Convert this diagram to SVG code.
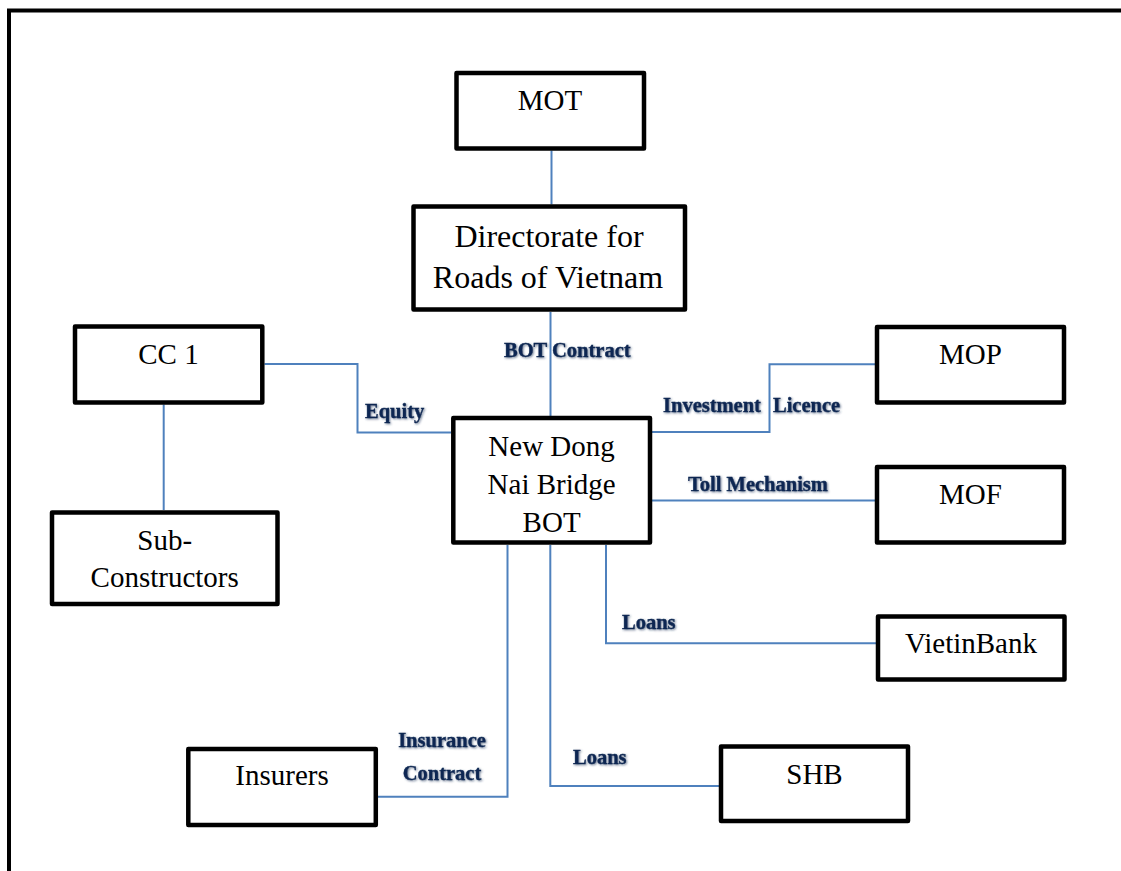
<svg xmlns="http://www.w3.org/2000/svg" width="1121" height="871" viewBox="0 0 1121 871">
  <style>
    .box { fill: #ffffff; stroke: #000000; stroke-width: 4.5; stroke-linejoin: round; }
    .node { font-family: "Liberation Serif", "Times New Roman", serif; font-size: 29px; fill: #000000; text-anchor: middle; }
    .big { font-size: 32px; }
    .link { fill: none; stroke: #4f81bd; stroke-width: 2; }
    .lbl { font-family: "Liberation Serif", "Times New Roman", serif; font-size: 20.5px; font-weight: bold; fill: #0f2752; stroke: #0f2752; stroke-width: 0.35; filter: url(#glow); }
    .frame { fill: none; stroke: #000000; stroke-width: 4; }
  </style>
  <defs>
    <filter id="glow" x="-10%" y="-30%" width="120%" height="160%">
      <feGaussianBlur in="SourceAlpha" stdDeviation="1" result="b"/>
      <feOffset in="b" dx="0.8" dy="0.8" result="o"/>
      <feFlood flood-color="#2e4466" flood-opacity="0.7"/>
      <feComposite in2="o" operator="in" result="s"/>
      <feMerge>
        <feMergeNode in="s"/>
        <feMergeNode in="SourceGraphic"/>
      </feMerge>
    </filter>
  </defs>

  <rect width="1121" height="871" fill="#ffffff"/>
  <!-- page frame (top and left edges) -->
  <path class="frame" d="M9 871 V10.5 H1121"/>

  <!-- connectors -->
  <g id="connectors">
    <path class="link" d="M551.5 150.5 V204.5"/>
    <path class="link" d="M550.5 312 V416"/>
    <path class="link" d="M264.5 364 H357.5 V432.5 H451"/>
    <path class="link" d="M163.7 404.5 V510"/>
    <path class="link" d="M652 432 H769.5 V364.3 H875"/>
    <path class="link" d="M652 500.5 H875"/>
    <path class="link" d="M606 545 V643.3 H876"/>
    <path class="link" d="M550.3 545 V786 H719"/>
    <path class="link" d="M507.5 545 V796.7 H378"/>

    <text class="lbl" x="504" y="357">BOT Contract</text>
    <text class="lbl" x="365" y="418">Equity</text>
    <text class="lbl" y="412"><tspan x="663">Investment </tspan><tspan x="773">Licence</tspan></text>
    <text class="lbl" x="688" y="490.5">Toll Mechanism</text>
    <text class="lbl" x="622" y="629">Loans</text>
    <text class="lbl" x="573" y="763.5">Loans</text>
    <text class="lbl" text-anchor="middle" x="442" y="747">Insurance</text>
    <text class="lbl" text-anchor="middle" x="442" y="779.5">Contract</text>
  </g>

  <g id="mot">
    <rect class="box" x="456.5" y="73" width="187.5" height="75.5"/>
    <text class="node" x="550" y="110">MOT</text>
  </g>
  <g id="directorate">
    <rect class="box" x="413.5" y="206.5" width="271.5" height="103"/>
    <text class="node big" x="549" y="247">Directorate for</text>
    <text class="node big" x="548" y="288">Roads of Vietnam</text>
  </g>
  <g id="cc1">
    <rect class="box" x="75" y="326.5" width="187.3" height="76"/>
    <text class="node" x="168.5" y="364">CC 1</text>
  </g>
  <g id="sub-constructors">
    <rect class="box" x="52" y="512.5" width="225.5" height="91.5"/>
    <text class="node" x="164.7" y="550">Sub-</text>
    <text class="node" x="164.7" y="587">Constructors</text>
  </g>
  <g id="bot">
    <rect class="box" x="453.3" y="418" width="196.7" height="124.5"/>
    <text class="node" x="551.6" y="456">New Dong</text>
    <text class="node" x="551.6" y="493.5">Nai Bridge</text>
    <text class="node" x="551.6" y="531.5">BOT</text>
  </g>
  <g id="mop">
    <rect class="box" x="877" y="327" width="187" height="75.5"/>
    <text class="node" x="970.5" y="363.5">MOP</text>
  </g>
  <g id="mof">
    <rect class="box" x="877" y="467" width="187" height="75.5"/>
    <text class="node" x="970.5" y="504">MOF</text>
  </g>
  <g id="vietinbank">
    <rect class="box" x="878" y="616.5" width="186.5" height="63"/>
    <text class="node" x="971" y="653">VietinBank</text>
  </g>
  <g id="shb">
    <rect class="box" x="721" y="746.5" width="187" height="74.5"/>
    <text class="node" x="814.5" y="783.5">SHB</text>
  </g>
  <g id="insurers">
    <rect class="box" x="188.3" y="749" width="187.5" height="76"/>
    <text class="node" x="282" y="785">Insurers</text>
  </g>
</svg>
